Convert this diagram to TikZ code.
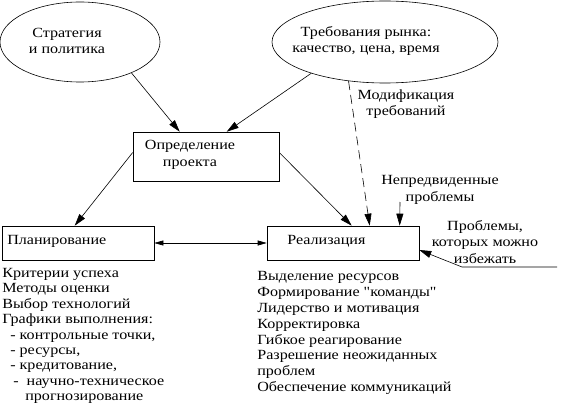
\documentclass[tikz,border=0pt]{standalone}
\usepackage{fontspec}
\setmainfont[FakeStretch=1.15, Ligatures=TeXOff]{Liberation Serif}
\usetikzlibrary{shapes.geometric,arrows.meta}
\begin{document}
\begin{tikzpicture}[x=1pt,y=-1pt,
  line width=0.6pt,
  txt/.style={font=\fontsize{14}{16.5}\selectfont, inner sep=0pt, align=center},
  oval/.style={draw, ellipse, inner sep=0pt},
  box/.style={draw, rectangle, inner sep=0pt},
  arr/.style={-{Triangle[length=12pt,width=7pt]}},
  darr/.style={{Triangle[length=9pt,width=5pt]}-{Triangle[length=9pt,width=5pt]}},
  lst/.style={font=\fontsize{14}{15.4}\selectfont, inner sep=0pt, align=left, anchor=north west}]
\useasboundingbox (0,0) rectangle (581,404);

% ellipses
\node[oval, minimum width=160pt, minimum height=80pt] (e1) at (80,42) {};
\node[txt] (t1) at (67,41) {Стратегия\\и политика};
\node[oval, minimum width=226pt, minimum height=82pt] (e2) at (385,42) {};
\node[txt] (t2) at (366,41) {Требования рынка:\\качество, цена, время};

% boxes
\node[box, minimum width=146pt, minimum height=49pt] (def) at (206,156.5) {};
\node[txt] (tdef) at (190,155) {Определение\\проекта};
\node[box, minimum width=152pt, minimum height=34pt] (plan) at (78,243) {};
\node[txt, anchor=west] (tplan) at (7,241) {Планирование};
\node[box, minimum width=152pt, minimum height=34pt] (real) at (343,243) {};
\node[txt, anchor=west] (treal) at (287,241) {Реализация};

% labels
\node[txt] (mod) at (406,104) {Модификация\\требований};
\node[txt] (unf) at (440,190) {Непредвиденные\\проблемы};
\node[txt] (avoid) at (485,242) {Проблемы,\\которых можно\\избежать};

% connectors
\draw[arr] (e1.-31) -- ([xshift=47pt]def.north west);
\draw[arr] (e2.-157) -- ([xshift=94pt]def.north west);
\draw[arr, dash pattern=on 9pt off 5pt] (e2.-133) -- ([xshift=103pt]real.north west);
\draw[arr] ([yshift=4pt]def.east) -- ([xshift=85pt]real.north west);
\draw[arr] ([yshift=4pt]def.west) -- ([xshift=73pt]plan.north west);
\draw[darr] (plan.east) -- (real.west);
\coordinate (u0) at (400,202);
\draw[arr] (u0) -- ([xshift=133pt]real.north west);
\coordinate (a0) at (557,267);
\coordinate (a1) at (462,267);
\draw[arr] (a0) -- (a1) -- ([yshift=-7pt]real.east);

% lists
\node[lst] (lplan) at (2,268) {Критерии успеха\\Методы оценки\\Выбор технологий\\Графики выполнения:\\
\hspace*{8pt}- контрольные точки,\\\hspace*{8pt}- ресурсы,\\\hspace*{8pt}- кредитование,\\
\hspace*{11pt}-\hspace*{8pt}научно-техническое\\\hspace*{23pt}прогнозирование};
\node[lst, font=\fontsize{14}{15.9}\selectfont] (lreal) at (257,271) {Выделение ресурсов\\Формирование "команды"\\Лидерство и мотивация\\Корректировка\\Гибкое реагирование\\Разрешение неожиданных\\проблем\\Обеспечение коммуникаций};
\end{tikzpicture}
\end{document}
